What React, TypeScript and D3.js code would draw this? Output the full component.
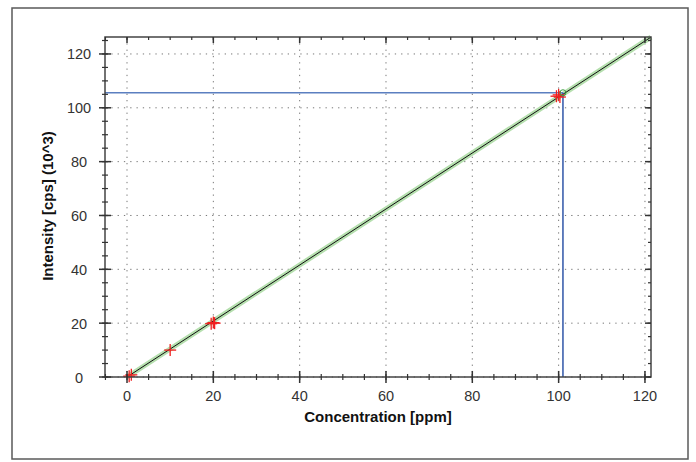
import React from "react";
import * as d3 from "d3";

const xTicks = [0, 20, 40, 60, 80, 100, 120];
const yTicks = [0, 20, 40, 60, 80, 100, 120];
const calX = [0.5, 1, 10, 19.5, 20, 20.3, 99.5, 100, 100.3];
const calY = [0.3, 0.8, 10, 19.8, 20.2, 20, 104.3, 104.8, 104];
const fitX = [0, 121.4];
const fitSlope = 1.04;
const sampleX = [101];
const sampleY = [105.6];

const W = 696, H = 462;
const L = 105, R = 651, T = 37, B = 377;

export default function App() {
  const x = d3.scaleLinear().domain([-5.1, 121.4]).range([L, R]);
  const y = d3.scaleLinear().domain([0, 126.3]).range([B, T]);
  const minorX = d3.range(-5, 121.5, 5);
  const minorY = d3.range(0, 126, 5);
  const fitLine = d3.line<number>().x((d) => x(d)).y((d) => y(d * fitSlope));
  const font = "'Liberation Sans', Arial, sans-serif";
  return (
    <svg width={W} height={H} style={{ position: "absolute", left: 0, top: 0 }} fontFamily={font}>
      <rect x={0} y={0} width={W} height={H} fill="#fff" />
      <rect x={12} y={8} width={676} height={451} fill="none" stroke="#5a5a5a" strokeWidth={1.5} />
      {/* grid */}
      {xTicks.map((t) => (
        <line key={"gx" + t} x1={x(t)} x2={x(t)} y1={T} y2={B} stroke="#777" strokeWidth={1} strokeDasharray="1.3,5" />
      ))}
      {yTicks.map((t) => (
        <line key={"gy" + t} x1={L} x2={R} y1={y(t)} y2={y(t)} stroke="#777" strokeWidth={1} strokeDasharray="1.3,5" />
      ))}
      {/* fit band */}
      <path d={fitLine(fitX) || ""} stroke="#b5dfae" strokeWidth={5} fill="none" />
      <path d={fitLine(fitX) || ""} stroke="#111" strokeWidth={1} fill="none" />
      {/* blue lines */}
      <line x1={L} x2={x(sampleX[0])} y1={y(sampleY[0])} y2={y(sampleY[0])} stroke="#5b7fc0" strokeWidth={1.5} />
      <line x1={x(sampleX[0])} x2={x(sampleX[0])} y1={y(sampleY[0])} y2={B} stroke="#2f55a8" strokeWidth={1.5} />
      {/* calibration points */}
      {calX.map((cx, i) => (
        <g key={"p" + i} stroke="#f02020" strokeWidth={1.3}>
          <line x1={x(cx) - 6} x2={x(cx) + 6} y1={y(calY[i])} y2={y(calY[i])} />
          <line x1={x(cx)} x2={x(cx)} y1={y(calY[i]) - 6} y2={y(calY[i]) + 6} />
        </g>
      ))}
      {sampleX.map((sx, i) => (
        <circle key={"s" + i} cx={x(sx)} cy={y(sampleY[i])} r={3} fill="none" stroke="#3aa040" strokeWidth={1} />
      ))}
      {/* frame */}
      <rect x={L} y={T} width={R - L} height={B - T} fill="none" stroke="#444" strokeWidth={1.5} />
      {/* minor ticks */}
      {minorX.map((t) => (
        <g key={"mx" + t} stroke="#333" strokeWidth={1.2}>
          <line x1={x(t)} x2={x(t)} y1={B - 3} y2={B + 3} />
          <line x1={x(t)} x2={x(t)} y1={T} y2={T + 3} />
        </g>
      ))}
      {minorY.map((t) => (
        <g key={"my" + t} stroke="#333" strokeWidth={1.2}>
          <line x1={L - 3} x2={L + 3} y1={y(t)} y2={y(t)} />
          <line x1={R - 3} x2={R} y1={y(t)} y2={y(t)} />
        </g>
      ))}
      {/* major ticks */}
      {xTicks.map((t) => (
        <g key={"tx" + t}>
          <line x1={x(t)} x2={x(t)} y1={B - 6} y2={B + 6} stroke="#333" strokeWidth={1.5} />
          <line x1={x(t)} x2={x(t)} y1={T} y2={T + 6} stroke="#333" strokeWidth={1.5} />
          <text x={x(t)} y={401} textAnchor="middle" fontSize={14.5} fill="#333">{t}</text>
        </g>
      ))}
      {yTicks.map((t) => (
        <g key={"ty" + t}>
          <line x1={L - 6} x2={L + 6} y1={y(t)} y2={y(t)} stroke="#333" strokeWidth={1.5} />
          <line x1={R - 6} x2={R} y1={y(t)} y2={y(t)} stroke="#333" strokeWidth={1.5} />
          <text x={79} y={y(t) + 5.5} textAnchor="middle" fontSize={14.5} fill="#333">{t}</text>
        </g>
      ))}
      <text x={378} y={422} textAnchor="middle" fontSize={15} fontWeight="bold" fill="#111">Concentration [ppm]</text>
      <text transform={`translate(53,206) rotate(-90)`} textAnchor="middle" fontSize={15} fontWeight="bold" fill="#111">Intensity [cps] (10^3)</text>
    </svg>
  );
}
